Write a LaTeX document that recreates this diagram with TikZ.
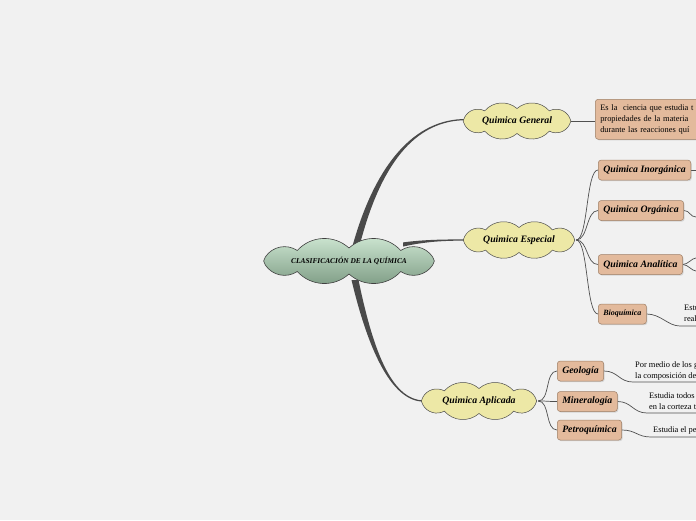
\documentclass[tikz,border=0pt]{standalone}
\usepackage{fontspec}
\setmainfont{Liberation Serif}
\usetikzlibrary{shadows,calc}
\pgfdeclarelayer{bg}
\pgfdeclarelayer{cloudl}
\pgfsetlayers{bg,cloudl,main}
\definecolor{bgc}{HTML}{F1F1F1}
\definecolor{trunkc}{HTML}{4A4A4A}
\definecolor{linec}{HTML}{505050}
\definecolor{gtop}{HTML}{CFE8D3}
\definecolor{gbot}{HTML}{7C9A83}
\definecolor{ycl}{HTML}{EDE8A6}
\definecolor{tanf}{HTML}{E3BA9C}
\definecolor{tanb}{HTML}{9E7F66}
\tikzset{
  cloudp/.style n args={5}{insert path={({#1+#3*cos(18)},{#2+#4*sin(18)})
     \foreach \k in {1,...,#5}{ to[bend left=45] ({#1+#3*cos(18+360*\k/#5)},{#2+#4*sin(18+360*\k/#5)}) } -- cycle}},
  trunk/.style={fill=trunkc},
  branch/.style={draw=linec,line width=0.7pt},
  ctext/.style={rectangle,inner sep=0pt},
  maintext/.style={ctext,minimum width=176pt,minimum height=46pt,font=\bfseries\itshape\fontsize{7.4}{9}\selectfont},
  ytext/.style={ctext,minimum height=40pt,font=\bfseries\itshape\fontsize{9.8}{11}\selectfont},
  greencloud/.style={draw=black!75,line width=0.6pt,top color=gtop,bottom color=gbot},
  yellowcloud/.style={draw=black!70,line width=0.5pt,fill=ycl},
  tanbox/.style={rectangle,rounded corners=3pt,fill=tanf,draw=tanb,line width=0.5pt,
    drop shadow={opacity=0.25,shadow xshift=1pt,shadow yshift=-1.2pt},
    minimum height=20pt,inner xsep=5pt,inner ysep=0pt,anchor=west,
    font=\bfseries\itshape\fontsize{9.8}{11}\selectfont},
  desc/.style={anchor=west,align=left,inner sep=0pt,font=\fontsize{8.4}{11}\selectfont},
}
\begin{document}
\begin{tikzpicture}[x=1pt,y=-1pt]
\useasboundingbox (0,0) rectangle (696,520);
\begin{pgfonlayer}{bg}
\fill[bgc] (0,0) rectangle (696,520);
\end{pgfonlayer}
\clip (0,0) rectangle (696,520);

% cloud texts (nodes)
\node[maintext] (cen) at (349,261) {CLASIFICACIÓN DE LA QUÍMICA};
\node[ytext,minimum width=108pt] (gen) at (517,121) {Quimica General};
\node[ytext,minimum width=114pt] (esp) at (519,240) {Quimica Especial};
\node[ytext,minimum width=118pt] (apl) at (479,401) {Quimica Aplicada};

% cloud outlines
\begin{pgfonlayer}{cloudl}
\path[greencloud] [cloudp={349}{261}{88}{13}{10}];
\path[yellowcloud] [cloudp={517}{121}{55}{12.5}{10}];
\path[yellowcloud] [cloudp={519}{240}{57}{12.5}{10}];
\path[yellowcloud] [cloudp={479}{401}{59}{12.5}{10}];
\end{pgfonlayer}

\node[tanbox,anchor=north west,minimum width=140pt,minimum height=40pt,text width=130pt,align=left,
  font=\fontsize{8.4}{11}\selectfont] (dgen) at (595,99)
  {Es la\ \ ciencia que estudia t\\propiedades de la materia \\durante las reacciones quí};

\node[tanbox] (ino) at (598,170) {Quimica Inorgánica};
\node[tanbox] (org) at (598,210.5) {Quimica Orgánica};
\node[tanbox] (ana) at (598,264.5) {Quimica Analítica};
\node[tanbox,font=\bfseries\itshape\fontsize{8}{9}\selectfont] (bio) at (598,314) {Bioquímica};

\node[tanbox] (geo) at (557,371) {Geología};
\node[tanbox] (min) at (557,401.5) {Mineralogía};
\node[tanbox] (pet) at (557,430) {Petroquímica};

% description texts
\node[desc] (tbio) at (684,313.5) {Estu\\real};
\node[desc] (tgeo) at (635,370.5) {Por medio de los g\\la composición de};
\node[desc] (tmin) at (649,401.5) {Estudia todos\\en la corteza t};
\node[desc] (tpet) at (653,430) {Estudia el pe};

% free ends
\coordinate (eino) at (696,170);
\coordinate (eorg) at (696,217);
\coordinate (eana1) at (696,258);
\coordinate (eana2) at (696,271);
\coordinate (ebio) at (696,326);
\coordinate (egeo) at (696,382);
\coordinate (emin) at (696,413);
\coordinate (epet) at (696,437);

\begin{pgfonlayer}{bg}
% trunks (tapered)
\fill[trunk] ($(cen.center)+(3.5,-15)$) .. controls (375,165) and (414,118.3) .. ($(gen.west)+(4,-2)$)
   -- ($(gen.west)+(4,-0.8)$) .. controls (414,119.8) and (380,166) .. ($(cen.center)+(10.5,-15)$) -- cycle;
\fill[trunk] ($(cen.center)+(2.5,19)$) .. controls (367,345) and (390,401.8) .. ($(apl.west)+(4,0.6)$)
   -- ($(apl.west)+(4,-0.6)$) .. controls (390,400) and (372,345) .. ($(cen.center)+(9.5,19)$) -- cycle;
\fill[trunk] ($(cen.center)+(54,-14.4)$) .. controls (425,241.5) and (445,240.6) .. ($(esp.west)+(4,0.6)$)
   -- ($(esp.west)+(4,-0.6)$) .. controls (445,239.4) and (425,239.5) .. ($(cen.center)+(54,-18.6)$) -- cycle;

% branches
\draw[branch] (gen.east) -- (dgen.west |- gen.east);
\foreach \t in {ino,org,ana,bio}{
  \draw[branch] (esp.east) .. controls +(12,0) and +(-12,0) .. (\t.west);
}
\foreach \t in {geo,min,pet}{
  \draw[branch] (apl.east) .. controls +(12,0) and +(-12,0) .. (\t.west);
}
\draw[branch] (ino.east) -- (eino);
\draw[branch] (org.east) .. controls +(6,0) and +(-6,0) .. (eorg);
\draw[branch] (ana.east) .. controls +(5,0) and +(-4,0) .. (eana1);
\draw[branch] (ana.east) .. controls +(5,0) and +(-4,0) .. (eana2);
\draw[branch] (bio.east) .. controls +(14,0) and +(-12,0) .. (680,326) -- (ebio);
\draw[branch] (geo.east) .. controls +(14,0) and +(-14,0) .. (633,382) -- (egeo);
\draw[branch] (min.east) .. controls +(14,0) and +(-14,0) .. (647,413) -- (emin);
\draw[branch] (pet.east) .. controls +(14,0) and +(-14,0) .. (651,437) -- (epet);
\end{pgfonlayer}
\end{tikzpicture}
\end{document}
